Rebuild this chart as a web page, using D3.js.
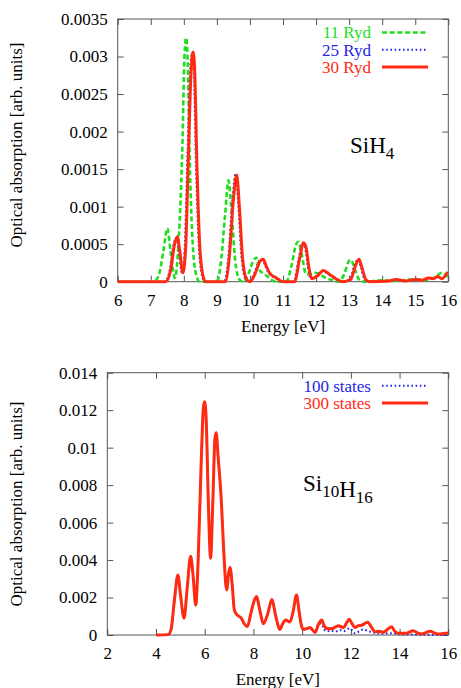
<!DOCTYPE html>
<html>
<head>
<meta charset="utf-8">
<script src="https://cdn.jsdelivr.net/npm/d3@7/dist/d3.min.js"></script>
<style>
  html, body { margin: 0; padding: 0; background: #fff; }
  svg { display: block; }
  text { font-family: "Liberation Serif", "Times New Roman", serif; }
</style>
</head>
<body>
<svg id="chart" width="461" height="688"></svg>
<script>
// ---------------- DATA ----------------
// Top panel: SiH4, [energy eV, absorption]
const sih4Series = ["11 Ryd", "25 Ryd", "30 Ryd"];
const sih4XTicks = [6, 7, 8, 9, 10, 11, 12, 13, 14, 15, 16];
const sih4YTicks = [0, 0.0005, 0.001, 0.0015, 0.002, 0.0025, 0.003, 0.0035];
const sih4YTickLabels = ["0", "0.0005", "0.001", "0.0015", "0.002", "0.0025", "0.003", "0.0035"];

const sih4Ryd11 = [
  [6,0],[7.1,0],[7.25,0.0001],[7.38,0.0004],[7.5,0.00071],[7.6,0.0004],[7.73,0.00005],
  [7.85,0.0006],[7.95,0.0017],[8.02,0.003],[8.07,0.00325],[8.12,0.0029],[8.18,0.0016],
  [8.27,0.0005],[8.37,0.0001],[8.48,0],[9.0,0],[9.12,0.00025],[9.25,0.0009],[9.35,0.00135],
  [9.45,0.0009],[9.55,0.0003],[9.68,0.00003],[9.8,0],[9.95,0.0001],[10.1,0.00028],
  [10.19,0.00032],[10.3,0.00015],[10.45,0.0001],[10.6,0.00004],[10.8,0],[11.1,0],
  [11.25,0.0002],[11.4,0.0005],[11.46,0.00053],[11.55,0.0004],[11.7,0.0001],[11.85,0.0001],
  [11.98,0.00012],[12.1,0.0001],[12.3,0.00005],[12.5,0.00002],[12.7,0],[12.85,0.0001],
  [13.0,0.00028],[13.06,0.00029],[13.15,0.0002],[13.3,0.00003],[13.45,0],[14.0,0.00002],
  [14.3,0.00001],[14.6,0.00002],[15.0,0.00003],[15.3,0.00002],[15.6,0.00006],[15.8,0.00012],
  [15.9,0.0001],[16,0.00006]
];
const sih4Ryd25 = [
  [6,0],[7.42,0],[7.57,0.00015],[7.69,0.0005],[7.77,0.00058],[7.85,0.0004],[7.94,0.00012],
  [8.02,0.0004],[8.11,0.0017],[8.19,0.0028],[8.24,0.00303],[8.3,0.0028],[8.37,0.0015],
  [8.45,0.0005],[8.54,0.0001],[8.63,0],[9.22,0],[9.34,0.0003],[9.47,0.0011],[9.56,0.00143],
  [9.65,0.001],[9.75,0.0003],[9.87,0.00003],[9.97,0],[10.12,0.0001],[10.27,0.00027],
  [10.37,0.0003],[10.47,0.0002],[10.57,0.00011],[10.77,0.00005],[10.97,0],[11.32,0],
  [11.47,0.0003],[11.59,0.00052],[11.67,0.00045],[11.75,0.0002],[11.84,0.00004],
  [12.02,0.00008],[12.19,0.00014],[12.37,0.0001],[12.57,0.00004],[12.77,0],[13.02,0.00003],
  [13.15,0.0002],[13.27,0.0003],[13.35,0.0002],[13.47,0.00003],[13.57,0],[14.2,0.00001],
  [14.4,0.00003],[14.7,0.00001],[15.0,0.00003],[15.2,0.00002],[15.4,0.00005],[15.55,0.00004],
  [15.68,0.00007],[15.8,0.00004],[15.98,0.00012]
];
const sih4Ryd30 = [
  [6,0],[7.45,0],[7.6,0.00015],[7.72,0.0005],[7.8,0.0006],[7.88,0.0004],[7.97,0.00012],
  [8.05,0.0004],[8.14,0.0017],[8.22,0.0028],[8.28,0.00306],[8.33,0.0028],[8.4,0.0015],
  [8.48,0.0005],[8.57,0.0001],[8.66,0],[9.25,0],[9.37,0.0003],[9.5,0.0011],[9.6,0.00142],
  [9.68,0.001],[9.78,0.0003],[9.9,0.00003],[10.0,0],[10.15,0.0001],[10.3,0.00027],
  [10.4,0.0003],[10.5,0.0002],[10.6,0.00011],[10.8,0.00005],[11.0,0],[11.35,0],
  [11.5,0.0003],[11.62,0.00052],[11.7,0.00045],[11.78,0.0002],[11.87,0.00004],
  [12.05,0.00008],[12.22,0.00015],[12.4,0.0001],[12.6,0.00004],[12.8,0],[13.05,0.00003],
  [13.18,0.0002],[13.3,0.0003],[13.38,0.0002],[13.5,0.00003],[13.6,0],[14.2,0.00001],
  [14.43,0.00003],[14.7,0.00001],[15.0,0.00003],[15.2,0.00002],[15.4,0.00005],[15.55,0.00004],
  [15.68,0.00007],[15.8,0.00004],[15.98,0.00013]
];

// Bottom panel: Si10H16
const si10Series = ["100 states", "300 states"];
const si10XTicks = [2, 4, 6, 8, 10, 12, 14, 16];
const si10YTicks = [0, 0.002, 0.004, 0.006, 0.008, 0.01, 0.012, 0.014];
const si10YTickLabels = ["0", "0.002", "0.004", "0.006", "0.008", "0.01", "0.012", "0.014"];

const si10States300 = [
  [4,0],[4.5,0.00002],[4.62,0.0003],[4.75,0.0018],[4.9,0.0032],[5.0,0.0022],[5.15,0.0009],
  [5.28,0.0025],[5.42,0.0042],[5.52,0.0032],[5.63,0.0016],[5.73,0.004],[5.85,0.009],
  [5.95,0.0122],[6.0,0.01245],[6.06,0.0115],[6.15,0.007],[6.24,0.0041],[6.33,0.007],
  [6.42,0.0105],[6.47,0.0108],[6.55,0.0095],[6.68,0.0072],[6.78,0.0045],[6.9,0.0024],
  [6.98,0.0033],[7.04,0.0036],[7.12,0.0028],[7.22,0.0013],[7.35,0.00105],[7.5,0.0009],
  [7.62,0.0006],[7.75,0.00045],[7.9,0.0012],[8.05,0.0019],[8.13,0.00205],[8.25,0.0014],
  [8.41,0.0006],[8.58,0.0011],[8.76,0.0019],[8.9,0.0011],[9.09,0.0003],[9.2,0.0006],
  [9.32,0.0008],[9.5,0.0007],[9.62,0.0012],[9.77,0.00213],[9.87,0.0013],[9.97,0.0005],
  [10.05,0.0003],[10.2,0.00035],[10.32,0.0004],[10.53,0.00014],[10.68,0.0006],
  [10.8,0.0008],[10.9,0.0005],[11.0,0.00036],[11.15,0.00033],[11.28,0.00036],
  [11.48,0.0005],[11.69,0.0004],[11.85,0.0007],[11.93,0.00084],[12.05,0.0006],
  [12.17,0.0004],[12.3,0.0005],[12.44,0.00052],[12.69,0.00068],[12.85,0.0004],
  [12.99,0.00018],[13.15,0.0002],[13.33,0.00015],[13.5,0.0003],[13.67,0.00044],
  [13.8,0.0002],[13.95,0.0001],[14.29,0.0001],[14.56,0.00023],[14.75,0.0001],
  [14.9,0.00005],[15.25,0.0002],[15.45,0.0001],[15.6,0.00005],[15.85,0.0001],[16,0.0001]
];
const si10States100 = [
  [4,0],[4.5,0.00002],[4.62,0.0003],[4.75,0.0018],[4.9,0.0032],[5.0,0.0022],[5.15,0.0009],
  [5.28,0.0025],[5.42,0.0042],[5.52,0.0032],[5.63,0.0016],[5.73,0.004],[5.85,0.009],
  [5.95,0.0122],[6.0,0.01245],[6.06,0.0115],[6.15,0.007],[6.24,0.0041],[6.33,0.007],
  [6.42,0.0105],[6.47,0.0108],[6.55,0.0095],[6.68,0.0072],[6.78,0.0045],[6.9,0.0024],
  [6.98,0.0033],[7.04,0.0036],[7.12,0.0028],[7.22,0.0013],[7.35,0.00105],[7.5,0.0009],
  [7.62,0.0006],[7.75,0.00045],[7.9,0.0012],[8.05,0.0019],[8.13,0.00205],[8.25,0.0014],
  [8.41,0.0006],[8.58,0.0011],[8.76,0.0019],[8.9,0.0011],[9.09,0.0003],[9.2,0.0006],
  [9.32,0.0008],[9.5,0.0007],[9.62,0.0012],[9.77,0.00213],[9.87,0.0013],[9.97,0.0005],
  [10.05,0.0003],[10.2,0.00035],[10.32,0.0004],[10.53,0.00014],[10.68,0.0006],
  [10.78,0.00062],[10.9,0.0003],[11.0,0.0002],[11.2,0.00022],[11.35,0.00018],
  [11.55,0.00027],[11.7,0.0002],[11.96,0.00036],[12.08,0.0002],[12.17,0.00009],
  [12.35,0.0002],[12.5,0.00029],[12.78,0.00018],[13.06,0.0001],[13.3,0.00008],
  [13.7,0.0001],[13.95,0.00004],[14.15,0.00003],[14.5,0.00002],[15.0,0.00001],[16,0]
];

// ---------------- DRAWING ----------------
const COLORS = { green: "#1ede1e", blue: "#2626e0", red: "#ff2a12" };
const svg = d3.select("#chart");
const FONT = 17;

function drawPanel(p) {
  const x = d3.scaleLinear().domain(p.xDomain).range([p.left, p.right]);
  const y = d3.scaleLinear().domain(p.yDomain).range([p.bottom, p.top]);
  const g = svg.append("g");
  const tickLen = 6;
  const axisColor = "#555";

  // axes with inward ticks (gnuplot style), mirrored
  const axB = g.append("g").attr("transform", `translate(0,${p.bottom})`)
    .call(d3.axisBottom(x).tickValues(p.xTicks).tickSizeInner(-tickLen).tickSizeOuter(0).tickPadding(12).tickFormat(d3.format("d")));
  const axT = g.append("g").attr("transform", `translate(0,${p.top})`)
    .call(d3.axisTop(x).tickValues(p.xTicks).tickSizeInner(-tickLen).tickSizeOuter(0).tickFormat(""));
  const axL = g.append("g").attr("transform", `translate(${p.left},0)`)
    .call(d3.axisLeft(y).tickValues(p.yTicks).tickSizeInner(-tickLen).tickSizeOuter(0).tickPadding(10)
      .tickFormat((d, i) => p.yTickLabels[i]));
  const axR = g.append("g").attr("transform", `translate(${p.right},0)`)
    .call(d3.axisRight(y).tickValues(p.yTicks).tickSizeInner(-tickLen).tickSizeOuter(0).tickFormat(""));
  [axB, axT, axL, axR].forEach(a => {
    a.select(".domain").remove();
    a.selectAll(".tick line").attr("stroke", axisColor).attr("stroke-width", 1);
    a.selectAll("text").attr("font-family", "Liberation Serif, serif").attr("font-size", FONT).attr("fill", "#000");
  });
  axB.selectAll("text").attr("dy", "0.71em");

  // frame
  g.append("rect").attr("x", p.left).attr("y", p.top)
    .attr("width", p.right - p.left).attr("height", p.bottom - p.top)
    .attr("fill", "none").attr("stroke", axisColor).attr("stroke-width", 1);

  // curves
  const line = d3.line().x(d => x(d[0])).y(d => y(d[1])).curve(d3.curveMonotoneX);
  const clipId = "clip" + p.id;
  g.append("clipPath").attr("id", clipId).append("rect")
    .attr("x", p.left).attr("y", p.top - 2).attr("width", p.right - p.left + 1).attr("height", p.bottom - p.top + 4);
  const curves = g.append("g").attr("clip-path", `url(#${clipId})`);
  p.series.forEach(s => {
    curves.append("path").datum(s.data).attr("d", line)
      .attr("fill", "none").attr("stroke", s.color).attr("stroke-width", s.width)
      .attr("stroke-dasharray", s.dash).attr("stroke-linejoin", "round")
      .attr("stroke-linecap", s.cap || "butt");
  });

  // legend
  p.series.forEach((s, i) => {
    if (!s.label) return;
    const ly = p.legendY + i * 17.3;
    g.append("text").attr("x", 371).attr("y", ly).attr("dy", "0.35em")
      .attr("text-anchor", "end").attr("font-size", FONT).attr("fill", s.color).text(s.label);
    g.append("line").attr("x1", 382).attr("x2", 428).attr("y1", ly).attr("y2", ly)
      .attr("stroke", s.color).attr("stroke-width", s.width).attr("stroke-dasharray", s.dash)
      .attr("stroke-linecap", s.cap || "butt");
  });

  // axis titles
  g.append("text").attr("x", (p.left + p.right) / 2).attr("y", p.xTitleY)
    .attr("text-anchor", "middle").attr("font-size", FONT).text("Energy [eV]");
  g.append("text").attr("transform", `translate(22,${p.yTitleY}) rotate(-90)`)
    .attr("text-anchor", "middle").attr("font-size", FONT).text("Optical absorption [arb. units]");

  // molecule label
  const t = g.append("text").attr("x", p.molX).attr("y", p.molY).attr("font-size", 23);
  p.mol.forEach(part => {
    if (part.sub) {
      t.append("tspan").attr("font-size", 17).attr("dy", 6).text(part.t);
      t.append("tspan").attr("font-size", 23).attr("dy", -6).text("");
    } else {
      t.append("tspan").text(part.t);
    }
  });
}

drawPanel({
  id: "top",
  xDomain: [6, 16], yDomain: [0, 0.0035],
  left: 117.7, right: 448.3, top: 19, bottom: 281.7,
  xTicks: sih4XTicks, yTicks: sih4YTicks, yTickLabels: sih4YTickLabels,
  series: [
    { label: sih4Series[0], data: sih4Ryd11, color: COLORS.green, width: 2.6, dash: "5,2.7" },
    { label: sih4Series[1], data: sih4Ryd25, color: COLORS.blue, width: 2, dash: "1.6,2.6" },
    { label: sih4Series[2], data: sih4Ryd30, color: COLORS.red, width: 3, dash: null }
  ],
  legendY: 32.5,
  xTitleY: 332, yTitleY: 145,
  molX: 350, molY: 153, mol: [{ t: "SiH" }, { t: "4", sub: true }]
});

drawPanel({
  id: "bot",
  xDomain: [2, 16], yDomain: [0, 0.014],
  left: 107.3, right: 448.3, top: 372.7, bottom: 635,
  xTicks: si10XTicks, yTicks: si10YTicks, yTickLabels: si10YTickLabels,
  series: [
    { label: si10Series[0], data: si10States100, color: COLORS.blue, width: 2, dash: "1.6,2.6" },
    { label: si10Series[1], data: si10States300, color: COLORS.red, width: 3, dash: null }
  ],
  legendY: 385.8,
  xTitleY: 685, yTitleY: 504,
  molX: 303, molY: 491, mol: [{ t: "Si" }, { t: "10", sub: true }, { t: "H" }, { t: "16", sub: true }]
});
</script>
</body>
</html>
